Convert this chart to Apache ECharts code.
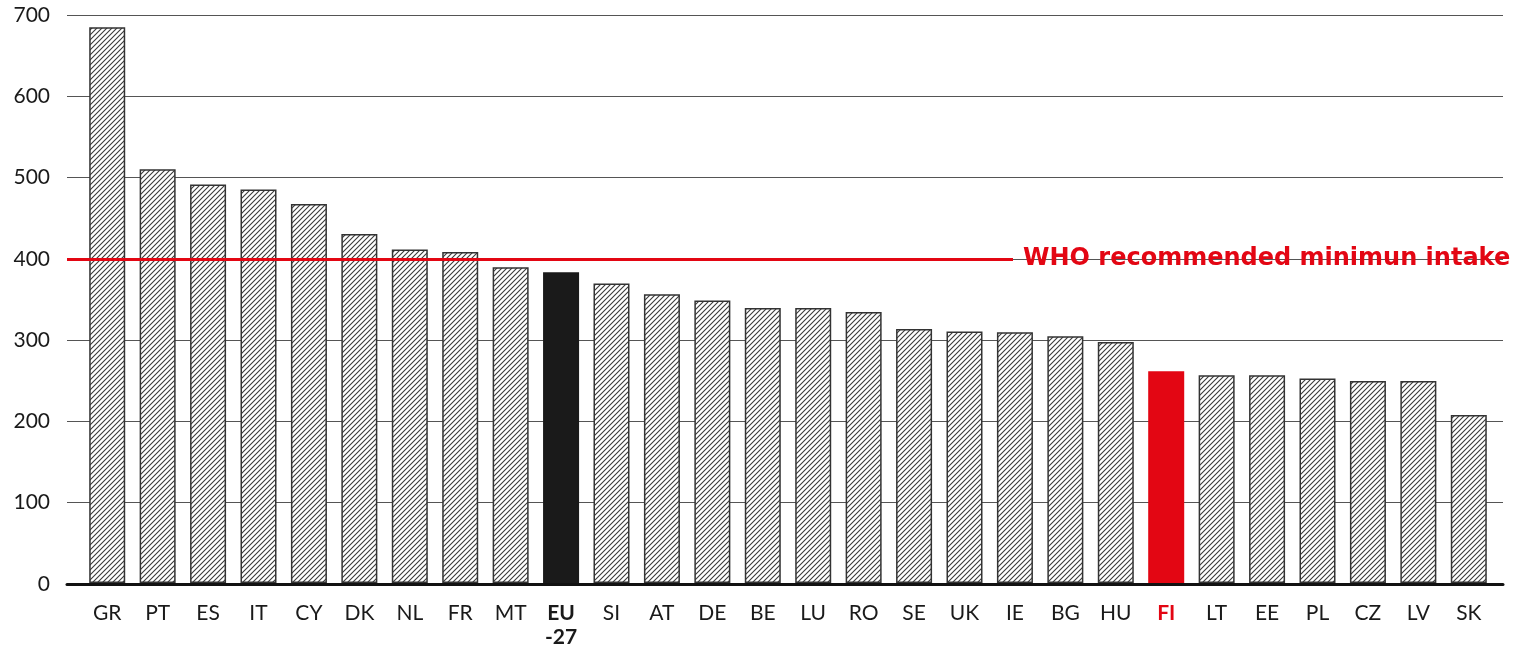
<!DOCTYPE html>
<html>
<head>
<meta charset="utf-8">
<script src="https://cdn.jsdelivr.net/npm/echarts@6/dist/echarts.min.js"></script>
<style>
  html, body { margin: 0; padding: 0; background: #fff; }
  #chart { width: 1515px; height: 649px; }
</style>
</head>
<body>
<div id="chart"></div>
<script>
const countries = ['GR', 'PT', 'ES', 'IT', 'CY', 'DK', 'NL', 'FR', 'MT', 'EU-27', 'SI', 'AT', 'DE', 'BE', 'LU', 'RO', 'SE', 'UK', 'IE', 'BG', 'HU', 'FI', 'LT', 'EE', 'PL', 'CZ', 'LV', 'SK']
const intake = [685, 510, 491, 485, 467, 430, 411, 408, 389, 383, 369, 356, 348, 339, 339, 334, 313, 310, 309, 304, 297, 261, 256, 256, 252, 249, 249, 207]
const yTicks = [0, 100, 200, 300, 400, 500, 600, 700]
const whoMinimum = 400
const whoLabel = 'WHO recommended minimun intake'

const red = '#e30613'
const font = 'Lato, "Noto Sans", sans-serif'

// diagonal hatch tile
const makeHatch = () => {
  const s = 5
  const c = document.createElement('canvas')
  c.width = s
  c.height = s
  const ctx = c.getContext('2d')
  ctx.fillStyle = '#fff'
  ctx.fillRect(0, 0, s, s)
  ctx.strokeStyle = '#3a3a3a'
  ctx.lineWidth = 1.1
  ctx.beginPath()
  ctx.moveTo(-1, s + 1); ctx.lineTo(s + 1, -1)
  ctx.moveTo(-1, 1); ctx.lineTo(1, -1)
  ctx.moveTo(s - 1, s + 1); ctx.lineTo(s + 1, s - 1)
  ctx.stroke()
  return c
}
const hatch = { image: makeHatch(), repeat: 'repeat' }

const chart = echarts.init(document.getElementById('chart'))

chart.setOption({
  animation: false,
  grid: [
    { left: 67, right: 12, top: 15, bottom: 65 },   // gridlines + y labels
    { left: 82, right: 21, top: 15, bottom: 65 },   // bars
    { left: 67, right: 502, top: 15, bottom: 65 }   // WHO line
  ],
  xAxis: [
    {
      gridIndex: 0, type: 'value', min: 0, max: 1, z: 5,
      axisLine: { show: true, lineStyle: { color: '#111', width: 3 } },
      axisTick: { show: false }, axisLabel: { show: false }, splitLine: { show: false }
    },
    {
      gridIndex: 1, type: 'category', data: countries,
      axisLine: { show: false }, axisTick: { show: false },
      axisLabel: {
        interval: 0,
        margin: 18, fontSize: 21, color: '#1a1a1a', fontFamily: font, lineHeight: 24,
        formatter: (v) => v === 'EU-27' ? '{eu|EU}\n{eu|-27}' : v === 'FI' ? '{fi|FI}' : v,
        rich: {
          eu: { fontWeight: 'bold', fontSize: 21, color: '#1a1a1a', fontFamily: font, lineHeight: 24 },
          fi: { fontWeight: 'bold', fontSize: 21, color: red, fontFamily: font, lineHeight: 24 }
        }
      }
    },
    { gridIndex: 2, type: 'value', show: false, min: 0, max: 1 }
  ],
  yAxis: [
    {
      gridIndex: 0, type: 'value', min: yTicks[0], max: yTicks[yTicks.length - 1], interval: 100,
      axisLine: { show: false }, axisTick: { show: false },
      axisLabel: { margin: 17, fontSize: 21, color: '#1a1a1a', fontFamily: font },
      splitLine: { lineStyle: { color: '#555', width: 1 } }
    },
    { gridIndex: 1, type: 'value', min: 0, max: 700, show: false },
    { gridIndex: 2, type: 'value', min: 0, max: 700, show: false }
  ],
  series: [
    {
      type: 'bar',
      xAxisIndex: 1,
      yAxisIndex: 1,
      barWidth: 36,
      data: intake.map((v, i) => {
        const c = countries[i]
        if (c === 'EU-27') return { value: v, itemStyle: { color: '#1a1a1a', borderColor: '#1a1a1a' } }
        if (c === 'FI') return { value: v, itemStyle: { color: red, borderColor: red } }
        return v
      }),
      itemStyle: { color: hatch, borderColor: '#333', borderWidth: 1.5 }
    },
    {
      type: 'line',
      xAxisIndex: 2,
      yAxisIndex: 2,
      data: [],
      markLine: {
        silent: true,
        symbol: 'none',
        lineStyle: { color: red, width: 3, type: 'solid' },
        label: {
          position: 'end', distance: 10, formatter: whoLabel,
          color: red, fontWeight: 'bold', fontSize: 24, fontFamily: '"DejaVu Sans", sans-serif'
        },
        data: [{ yAxis: whoMinimum }]
      }
    }
  ]
})
</script>
</body>
</html>
